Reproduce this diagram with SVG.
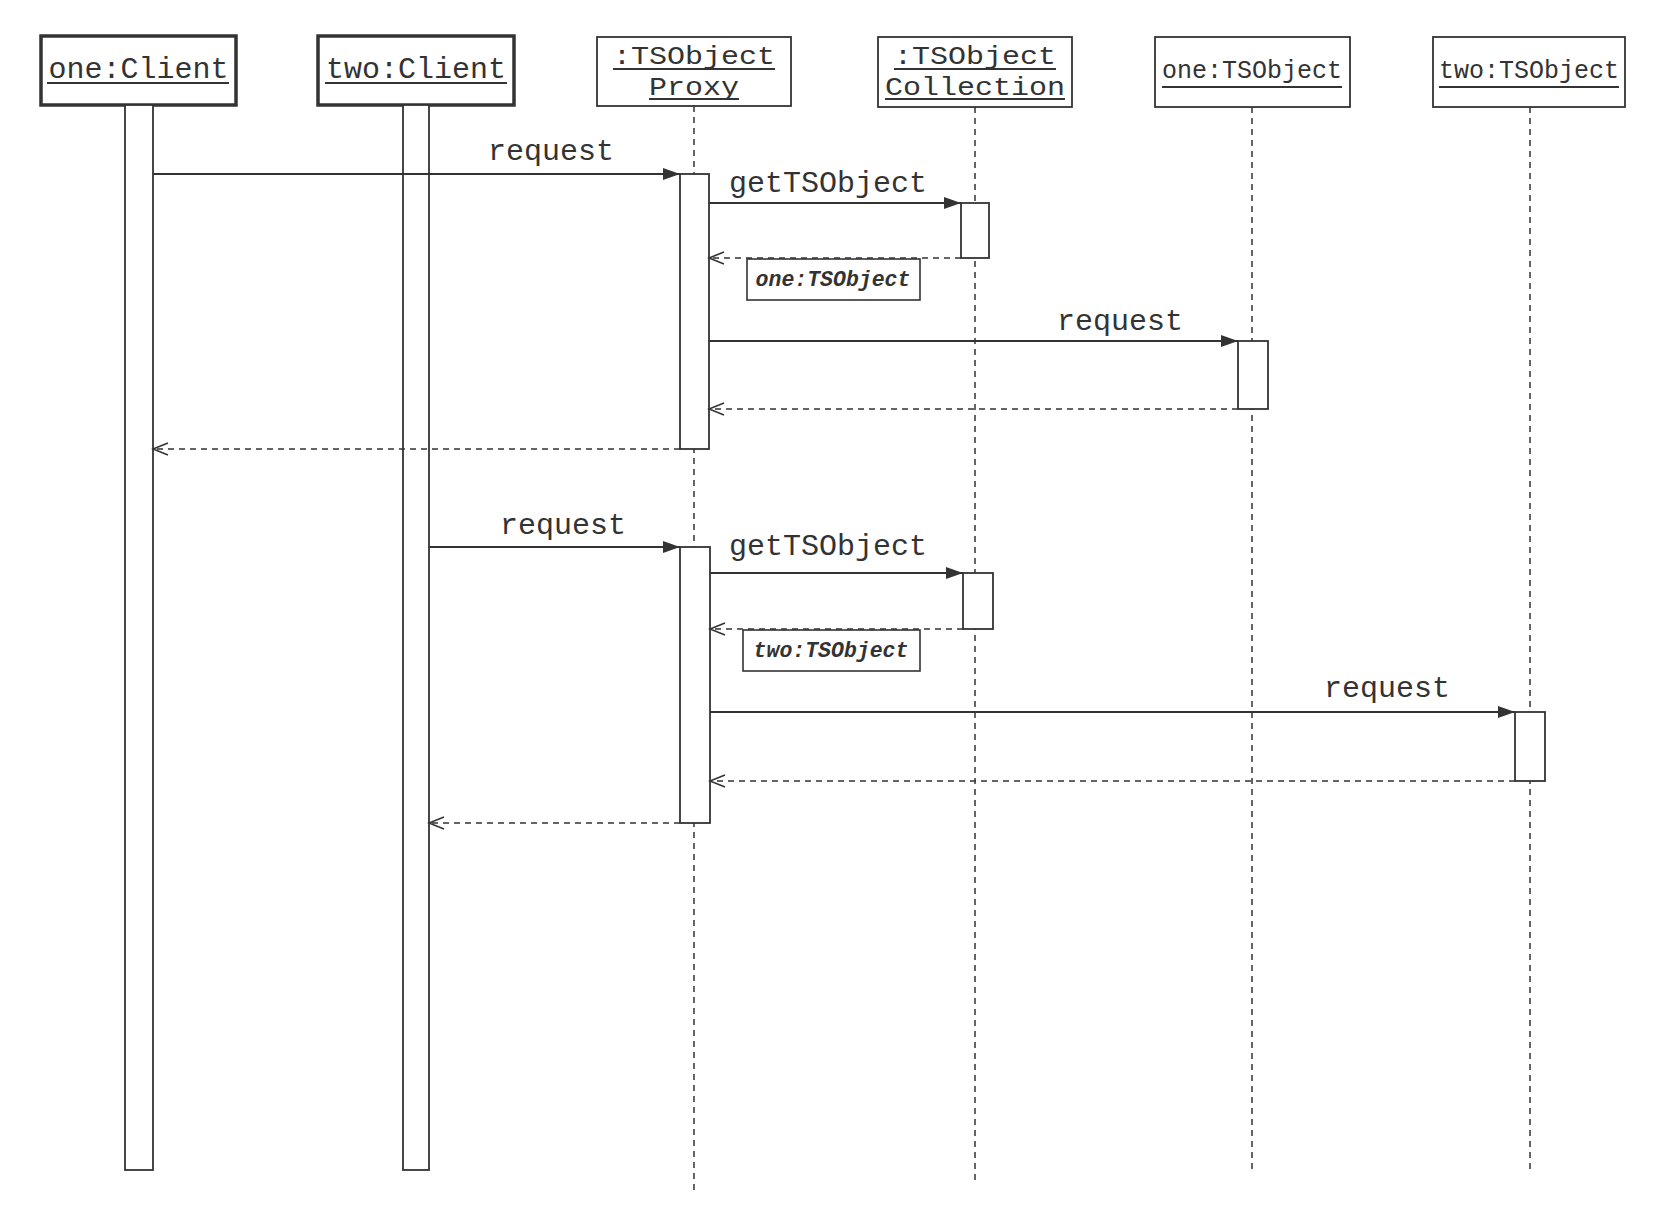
<svg xmlns="http://www.w3.org/2000/svg" width="1673" height="1223" viewBox="0 0 1673 1223">
<style>
.bg{fill:#ffffff}
.head{fill:#fff;stroke:#333;stroke-width:1.8}
.head.thick{stroke-width:3.5}
.t{font-family:"Liberation Mono","DejaVu Sans Mono",monospace;font-size:30px;fill:#333;text-anchor:middle}
.t2{font-family:"Liberation Mono","DejaVu Sans Mono",monospace;font-size:26px;fill:#333;text-anchor:middle}
.ts{font-family:"Liberation Mono","DejaVu Sans Mono",monospace;font-size:25px;fill:#333;text-anchor:middle}
.ti{font-family:"Liberation Mono","DejaVu Sans Mono",monospace;font-size:21.5px;font-style:italic;font-weight:bold;fill:#333;text-anchor:middle}
.ul{stroke:#333;stroke-width:1.8}
.life{stroke:#333;stroke-width:1.5;stroke-dasharray:6 5;fill:none}
.act{fill:#fff;stroke:#333;stroke-width:1.8}
.msg{stroke:#333;stroke-width:1.8;fill:none}
.ret{stroke:#333;stroke-width:1.6;stroke-dasharray:6 5;fill:none}
.lbl{fill:#fff;stroke:#333;stroke-width:1.6}
</style>
<defs>
<marker id="fill" markerUnits="userSpaceOnUse" markerWidth="18" markerHeight="14" refX="17" refY="6" orient="auto">
<path d="M0,0 L17,6 L0,12 z" fill="#333"/>
</marker>
<marker id="open" markerUnits="userSpaceOnUse" markerWidth="18" markerHeight="16" refX="16" refY="7" orient="auto">
<path d="M1,1 L16,7 L1,13" fill="none" stroke="#333" stroke-width="1.6"/>
</marker>
</defs>
<rect class="bg" x="0" y="0" width="1673" height="1223"/>

<g id="lifelines">
<line class="life" x1="694" y1="106" x2="694" y2="1190"/>
<line class="life" x1="975" y1="107" x2="975" y2="1185"/>
<line class="life" x1="1252" y1="107" x2="1252" y2="1173"/>
<line class="life" x1="1530" y1="107" x2="1530" y2="1173"/>
</g>

<g id="one-client">
<rect class="head thick" x="41" y="36" width="195" height="69"/>
<text class="t" x="138.5" y="78">one:Client</text>
<line class="ul" x1="47" y1="83" x2="229" y2="83"/>
<rect class="act" x="125" y="105" width="28" height="1065"/>
</g>

<g id="two-client">
<rect class="head thick" x="318" y="36" width="196" height="69"/>
<text class="t" x="416" y="78">two:Client</text>
<line class="ul" x1="325" y1="83" x2="507" y2="83"/>
<rect class="act" x="403" y="105" width="26" height="1065"/>
</g>

<g id="proxy">
<rect class="head" x="597" y="37" width="194" height="69"/>
<text class="t2" x="694" y="64" textLength="162" lengthAdjust="spacingAndGlyphs">:TSObject</text>
<line class="ul" x1="613" y1="69" x2="775" y2="69"/>
<text class="t2" x="694" y="95" textLength="90" lengthAdjust="spacingAndGlyphs">Proxy</text>
<line class="ul" x1="649" y1="99" x2="739" y2="99"/>
<rect class="act" x="680" y="174" width="29" height="275"/>
<rect class="act" x="680" y="547" width="30" height="276"/>
</g>

<g id="collection">
<rect class="head" x="878" y="37" width="194" height="70"/>
<text class="t2" x="975" y="64" textLength="162" lengthAdjust="spacingAndGlyphs">:TSObject</text>
<line class="ul" x1="894" y1="69" x2="1056" y2="69"/>
<text class="t2" x="975" y="95" textLength="180" lengthAdjust="spacingAndGlyphs">Collection</text>
<line class="ul" x1="885" y1="99" x2="1065" y2="99"/>
<rect class="act" x="961" y="203" width="28" height="55"/>
<rect class="act" x="963" y="573" width="30" height="56"/>
</g>

<g id="one-tsobject">
<rect class="head" x="1155" y="37" width="195" height="70"/>
<text class="ts" x="1252" y="78">one:TSObject</text>
<line class="ul" x1="1162" y1="87" x2="1342" y2="87"/>
<rect class="act" x="1238" y="341" width="30" height="68"/>
</g>

<g id="two-tsobject">
<rect class="head" x="1433" y="37" width="192" height="70"/>
<text class="ts" x="1529" y="78">two:TSObject</text>
<line class="ul" x1="1439" y1="87" x2="1619" y2="87"/>
<rect class="act" x="1515" y="712" width="30" height="69"/>
</g>

<g id="connectors">
<line class="msg" x1="153" y1="174" x2="680" y2="174" marker-end="url(#fill)"/>
<text class="t" x="551" y="160">request</text>

<line class="msg" x1="709" y1="203" x2="961" y2="203" marker-end="url(#fill)"/>
<text class="t" x="828" y="192">getTSObject</text>

<line class="ret" x1="961" y1="258" x2="709" y2="258" marker-end="url(#open)"/>
<rect class="lbl" x="747" y="259" width="173" height="41"/>
<text class="ti" x="833" y="286">one:TSObject</text>

<line class="msg" x1="709" y1="341" x2="1238" y2="341" marker-end="url(#fill)"/>
<text class="t" x="1120" y="330">request</text>

<line class="ret" x1="1238" y1="409" x2="709" y2="409" marker-end="url(#open)"/>

<line class="ret" x1="680" y1="449" x2="153" y2="449" marker-end="url(#open)"/>

<line class="msg" x1="429" y1="547" x2="680" y2="547" marker-end="url(#fill)"/>
<text class="t" x="563" y="534">request</text>

<line class="msg" x1="710" y1="573" x2="963" y2="573" marker-end="url(#fill)"/>
<text class="t" x="828" y="555">getTSObject</text>

<line class="ret" x1="963" y1="629" x2="710" y2="629" marker-end="url(#open)"/>
<rect class="lbl" x="743" y="630" width="177" height="41"/>
<text class="ti" x="831" y="657">two:TSObject</text>

<line class="msg" x1="710" y1="712" x2="1515" y2="712" marker-end="url(#fill)"/>
<text class="t" x="1387" y="697">request</text>

<line class="ret" x1="1515" y1="781" x2="710" y2="781" marker-end="url(#open)"/>

<line class="ret" x1="680" y1="823" x2="429" y2="823" marker-end="url(#open)"/>
</g>
</svg>
